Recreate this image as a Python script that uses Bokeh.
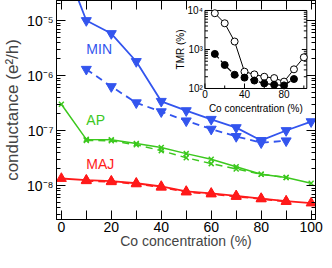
import math
from bokeh.plotting import figure
from bokeh.models import (FixedTicker, CustomJSTickFormatter, LinearAxis, LogAxis, Label,
                          Range1d, LogScale)
from bokeh.core.properties import value
from bokeh.embed import file_html
from bokeh.resources import INLINE

FONT = "Liberation Sans"

# ---------------- data ----------------
co = [0, 10, 20, 30, 40, 50, 60, 70, 80, 90, 100]
min_solid = [1.5e-4, 1.0e-5, 5.8e-6, 1.8e-6, 3.4e-7, 2.3e-7, 1.6e-7, 1.13e-7, 6.6e-8, 1.0e-7, 1.45e-7]
co_dash = [10, 20, 30, 40, 50, 60, 70, 80, 90]
min_dash = [1.3e-6, 6.3e-7, 3.2e-7, 2.2e-7, 1.5e-7, 1.06e-7, 7.8e-8, 6.0e-8, 6.5e-8]
ap_solid = [3.0e-7, 6.9e-8, 6.8e-8, 5.8e-8, 4.9e-8, 3.8e-8, 3.0e-8, 2.2e-8, 1.6e-8, 1.4e-8, 1.1e-8]
ap_dash = [6.6e-8, 6.5e-8, 5.5e-8, 4.3e-8, 3.2e-8, 2.5e-8, 2.0e-8, 1.6e-8, 1.4e-8]
maj_solid = [1.34e-8, 1.25e-8, 1.2e-8, 1.1e-8, 9.6e-9, 7.8e-9, 7.2e-9, 6.5e-9, 5.8e-9, 5.2e-9, 4.8e-9]
maj_dash = [1.22e-8, 1.17e-8, 1.07e-8, 9.3e-9, 7.6e-9, 7.0e-9, 6.3e-9, 5.7e-9, 5.1e-9]

tmr_co = [10, 20, 30, 40, 50, 60, 70, 80, 90, 100]
tmr_open = [8500, 4700, 1600, 270, 230, 200, 185, 150, 310, 630]
tmr_co_f = [10, 20, 30, 40, 50, 60, 70, 80, 90]
tmr_filled = [770, 400, 225, 190, 160, 135, 125, 120, 175]

x_ticks = [0, 20, 40, 60, 80, 100]
x_minor = [10, 30, 50, 70, 90]
y_ticks = [1e-8, 1e-7, 1e-6, 1e-5]
inset_x_ticks = [0, 40, 80]
inset_x_minor = [20, 60, 100]
inset_x_labels = ["0", "40", "80"]
inset_y_ticks = [1e2, 1e3, 1e4]
inset_y_labels = ["10\u00b2", "10\u00b3", "10\u2074"]
inset_x_lim = (0, 103)
inset_y_lim = (1e2, 1e4)

BLUE = "#3355ee"
GREEN = "#3cc81e"
RED = "#ff1a1a"


def log_minor(lo, hi):
    out = []
    for e in range(lo, hi):
        for k in range(2, 10):
            out.append(k * 10.0 ** e)
    return out


sup_fmt = CustomJSTickFormatter(code="""
const sup = {"-":"\u207b","0":"\u2070","1":"\u00b9","2":"\u00b2","3":"\u00b3","4":"\u2074","5":"\u2075","6":"\u2076","7":"\u2077","8":"\u2078","9":"\u2079"};
const e = Math.round(Math.log10(tick));
return "10" + String(e).split("").map(c => sup[c]).join("");
""")
blank_fmt = CustomJSTickFormatter(code="return '';")

# ---------------- main figure ----------------
p = figure(width=324, height=252, x_range=(-1.94, 101.75), y_range=(10 ** -8.618, 10 ** -4.636),
           y_axis_type="log", toolbar_location=None, output_backend="svg",
           min_border_left=48, min_border_right=9, min_border_top=0, min_border_bottom=33)
p.grid.visible = False
p.outline_line_color = "black"
p.outline_line_width = 1

xt = FixedTicker(ticks=x_ticks, minor_ticks=x_minor)
yt = FixedTicker(ticks=y_ticks, minor_ticks=log_minor(-9, -4))

xa = p.xaxis[0]
xa.ticker = xt
xa.axis_label = "Co concentration (%)"
ya = p.yaxis[0]
ya.ticker = yt
ya.formatter = sup_fmt
ya.axis_label = "conductance (e\u00b2/h)"

for ax in (xa, ya):
    ax.major_tick_in = 9
    ax.major_tick_out = 0
    ax.minor_tick_in = 4
    ax.minor_tick_out = 0
    ax.axis_line_color = "black"
    ax.major_label_text_font = FONT
    ax.axis_label_text_font = FONT
    ax.axis_label_text_font_style = "normal"
    ax.major_label_text_color = "black"
xa.minor_tick_in = 9
xa.major_label_text_font_size = "14px"
xa.major_label_standoff = 2
xa.axis_label_text_font_size = "14px"
xa.axis_label_standoff = -2
ya.major_label_text_font_size = "14px"
ya.major_label_standoff = 3
ya.axis_label_text_font_size = "17px"
ya.axis_label_standoff = 2

top = LinearAxis(ticker=xt, formatter=blank_fmt, major_tick_in=9, major_tick_out=0,
                 minor_tick_in=9, minor_tick_out=0, major_label_standoff=0)
right = LogAxis(ticker=yt, formatter=blank_fmt, major_tick_in=9, major_tick_out=0,
                minor_tick_in=4, minor_tick_out=0, major_label_standoff=0)
p.add_layout(top, "above")
p.add_layout(right, "right")

# MIN
p.line(co, min_solid, color=BLUE, line_width=1.8)
p.scatter(co, min_solid, marker="inverted_triangle", size=10, color=BLUE)
p.line(co_dash, min_dash, color=BLUE, line_width=1.8, line_dash="7 5")
p.scatter(co_dash, min_dash, marker="inverted_triangle", size=10, color=BLUE)
# AP
p.line(co, ap_solid, color=GREEN, line_width=1.5)
p.scatter(co, ap_solid, marker="x", size=7, color=GREEN, line_width=1.5)
p.line(co_dash, ap_dash, color=GREEN, line_width=1.5, line_dash="7 5")
p.scatter(co_dash, ap_dash, marker="x", size=7, color=GREEN, line_width=1.5)
# MAJ
p.line(co, maj_solid, color=RED, line_width=1.8)
p.scatter(co, maj_solid, marker="triangle", size=10, color=RED)
p.line(co_dash, maj_dash, color=RED, line_width=1.8, line_dash="7 5")
p.scatter(co_dash, maj_dash, marker="triangle", size=10, color=RED)

for txt, yv, c in (("MIN", 3.0e-6, BLUE), ("AP", 1.55e-7, GREEN), ("MAJ", 2.5e-8, RED)):
    p.add_layout(Label(x=10, y=yv, text=txt, text_color=c, text_font=FONT,
                       text_font_size="14px", text_align="left", text_baseline="middle"))

# ---------------- inset (drawn on extra ranges of the same figure) ----------------
p.extra_x_ranges = {"ix": Range1d(-150.1, 111.8)}
p.extra_y_ranges = {"iy": Range1d(10 ** -1.359, 10 ** 4.256)}
p.extra_y_scales = {"iy": LogScale()}
R = dict(x_range_name="ix", y_range_name="iy")

p.quad(left=[inset_x_lim[0]], right=[inset_x_lim[1]], bottom=[inset_y_lim[0]], top=[inset_y_lim[1]],
       fill_color="white", line_color="black", line_width=1, **R)

mins = log_minor(2, 4)
tick_kw = dict(length_units="screen", line_color="black", line_width=1, **R)
p.ray(x=inset_x_ticks, y=[inset_y_lim[0]] * len(inset_x_ticks), length=5, angle=math.pi / 2, **tick_kw)
p.ray(x=inset_x_minor, y=[inset_y_lim[0]] * len(inset_x_minor), length=3, angle=math.pi / 2, **tick_kw)
p.ray(x=[inset_x_lim[0]] * len(inset_y_ticks), y=inset_y_ticks, length=5, angle=0, **tick_kw)
p.ray(x=[inset_x_lim[0]] * len(mins), y=mins, length=3, angle=0, **tick_kw)
p.ray(x=[inset_x_lim[1]] * len(inset_y_ticks), y=inset_y_ticks, length=5, angle=math.pi, **tick_kw)
p.ray(x=[inset_x_lim[1]] * len(mins), y=mins, length=3, angle=math.pi, **tick_kw)

txt_kw = dict(text_font=value(FONT), text_font_size="10px", text_color="black", **R)
p.text(x=inset_x_ticks, y=[inset_y_lim[0]] * len(inset_x_ticks), text=inset_x_labels,
       y_offset=2, text_align="center", text_baseline="top", **txt_kw)
p.text(x=[inset_x_lim[0]] * len(inset_y_ticks), y=inset_y_ticks, text=inset_y_labels,
       x_offset=-2, text_align="right", text_baseline="middle", **txt_kw)
p.text(x=[(inset_x_lim[0] + inset_x_lim[1]) / 2], y=[inset_y_lim[0]], text=["Co concentration (%)"],
       y_offset=15, text_align="center", text_baseline="top", **txt_kw)
p.text(x=[inset_x_lim[0]], y=[math.sqrt(inset_y_lim[0] * inset_y_lim[1])], text=["TMR (%)"],
       x_offset=-24, angle=math.pi / 2, text_align="center", text_baseline="middle", **txt_kw)

# inset data
p.line(tmr_co, tmr_open, color="black", line_width=1, **R)
p.scatter(tmr_co, tmr_open, marker="circle", size=7, fill_color="white", line_color="black",
          line_width=1, **R)
p.line(tmr_co_f, tmr_filled, color="black", line_width=1.2, line_dash="6 3", **R)
p.scatter(tmr_co_f, tmr_filled, marker="circle", size=7, color="black", **R)

open("out.html", "w").write(file_html(p, INLINE))
